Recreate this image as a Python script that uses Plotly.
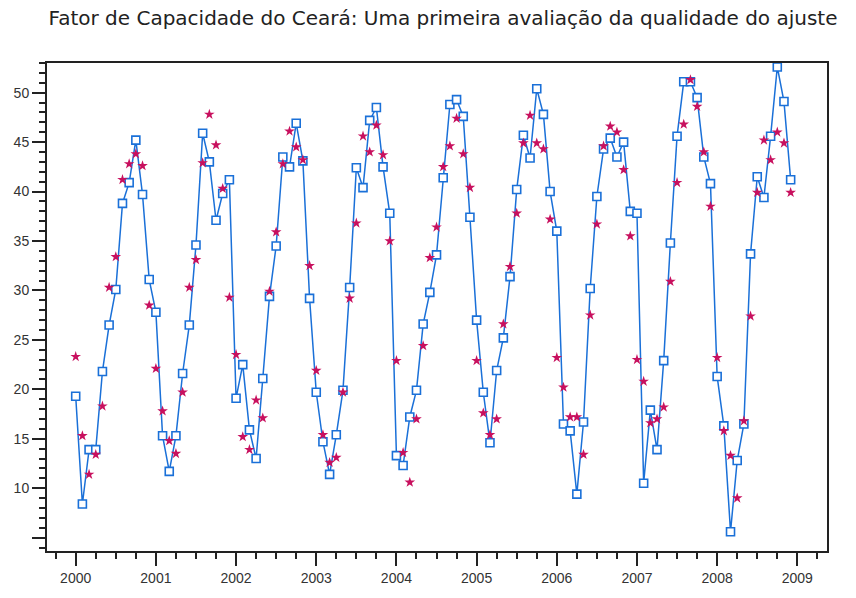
import plotly.graph_objects as go

years_start = 2000
n_months = 108

observed = [19.3, 8.4, 13.9, 13.9, 21.8, 26.5, 30.1, 38.8, 40.9, 45.2, 39.7, 31.1,
            27.8, 15.3, 11.7, 15.3, 21.6, 26.5, 34.6, 45.9, 43.0, 37.1, 39.8, 41.2,
            19.1, 22.5, 15.9, 13.0, 21.1, 29.4, 34.5, 43.5, 42.5, 46.9, 43.1, 29.2,
            19.7, 14.7, 11.4, 15.4, 19.9, 30.3, 42.4, 40.4, 47.2, 48.5, 42.5, 37.8,
            13.3, 12.3, 17.2, 19.9, 26.6, 29.8, 33.6, 41.4, 48.8, 49.3, 47.6, 37.4,
            27.0, 19.7, 14.6, 21.9, 25.2, 31.4, 40.2, 45.7, 43.4, 50.4, 47.8, 40.0,
            36.0, 16.5, 15.8, 9.4, 16.7, 30.2, 39.5, 44.3, 45.4, 43.5, 45.0, 38.0,
            37.8, 10.5, 17.9, 13.9, 22.9, 34.8, 45.6, 51.1, 51.1, 49.5, 43.5, 40.8,
            21.3, 16.3, 5.6, 12.8, 16.5, 33.7, 41.5, 39.4, 45.6, 52.6, 49.1, 41.2]

fitted = [23.3, 15.3, 11.4, 13.4, 18.3, 30.3, 33.4, 41.2, 42.8, 43.8, 42.6, 28.5,
          22.1, 17.8, 14.8, 13.5, 19.7, 30.3, 33.1, 42.9, 47.8, 44.7, 40.3, 29.3,
          23.5, 15.2, 13.9, 18.9, 17.1, 29.9, 35.9, 42.8, 46.1, 44.5, 43.2, 32.5,
          21.9, 15.4, 12.6, 13.1, 19.7, 29.2, 36.8, 45.6, 44.0, 46.7, 43.7, 35.0,
          22.9, 13.6, 10.6, 17.0, 24.4, 33.3, 36.4, 42.5, 44.6, 47.4, 43.8, 40.4,
          22.9, 17.6, 15.4, 17.0, 26.6, 32.4, 37.8, 44.9, 47.7, 44.9, 44.3, 37.2,
          23.2, 20.2, 17.2, 17.2, 13.4, 27.5, 36.7, 44.6, 46.6, 46.0, 42.2, 35.5,
          23.0, 20.8, 16.6, 17.0, 18.2, 30.9, 40.9, 46.8, 51.3, 48.6, 44.0, 38.5,
          23.2, 15.8, 13.3, 9.0, 16.8, 27.4, 39.9, 45.2, 43.2, 46.0, 44.9, 39.9]

x_tick_labels = [str(y) for y in range(2000, 2010)]
y_tick_vals = [5, 10, 15, 20, 25, 30, 35, 40, 45, 50]
y_tick_text = ["", "10", "15", "20", "25", "30", "35", "40", "45", "50"]

title_text = "Fator de Capacidade do Ceará: Uma primeira avaliação da qualidade do ajuste"

t = [years_start + i / 12 for i in range(n_months)]

fig = go.Figure()
fig.add_trace(go.Scatter(
    x=t, y=observed, mode="lines+markers",
    line=dict(color="#1a70d8", width=1.5),
    marker=dict(symbol="square", size=8, color="white",
                line=dict(color="#1a70d8", width=1.6)),
    showlegend=False))
fig.add_trace(go.Scatter(
    x=t, y=fitted, mode="markers",
    marker=dict(symbol="star", size=8, color="#c8105e",
                line=dict(width=0)),
    showlegend=False))

axis_font = dict(family="Liberation Sans, Arial, sans-serif", size=14, color="#333333")

fig.update_layout(
    width=856, height=598,
    margin=dict(l=47, r=29, t=63, b=38),
    paper_bgcolor="white", plot_bgcolor="white",
    title=dict(text=title_text, x=443 / 856, xanchor="center", xref="container",
               y=1 - 18 / 598, yanchor="middle", yref="container",
               font=dict(family="DejaVu Sans, sans-serif", size=20, color="#222222")),
    xaxis=dict(range=[1999.642, 2009.37], showgrid=False, zeroline=False,
               tickmode="array", tickvals=list(range(2000, 2010)), ticktext=x_tick_labels,
               ticks="outside", ticklen=13, tickwidth=2, tickcolor="#222222",
               showline=True, linecolor="#222222", linewidth=2, mirror=True,
               tickfont=axis_font,
               minor=dict(dtick=0.25, tick0=2000, ticks="outside", ticklen=6,
                          tickwidth=2, tickcolor="#222222", showgrid=False)),
    yaxis=dict(range=[3.65, 53.0], showgrid=False, zeroline=False,
               tickmode="array", tickvals=y_tick_vals, ticktext=y_tick_text,
               ticks="outside", ticklen=13, tickwidth=2, tickcolor="#222222",
               showline=True, linecolor="#222222", linewidth=2, mirror=True,
               tickfont=axis_font,
               minor=dict(dtick=1, tick0=0, ticks="outside", ticklen=6,
                          tickwidth=2, tickcolor="#222222", showgrid=False)),
)

fig.write_html("out.html")
